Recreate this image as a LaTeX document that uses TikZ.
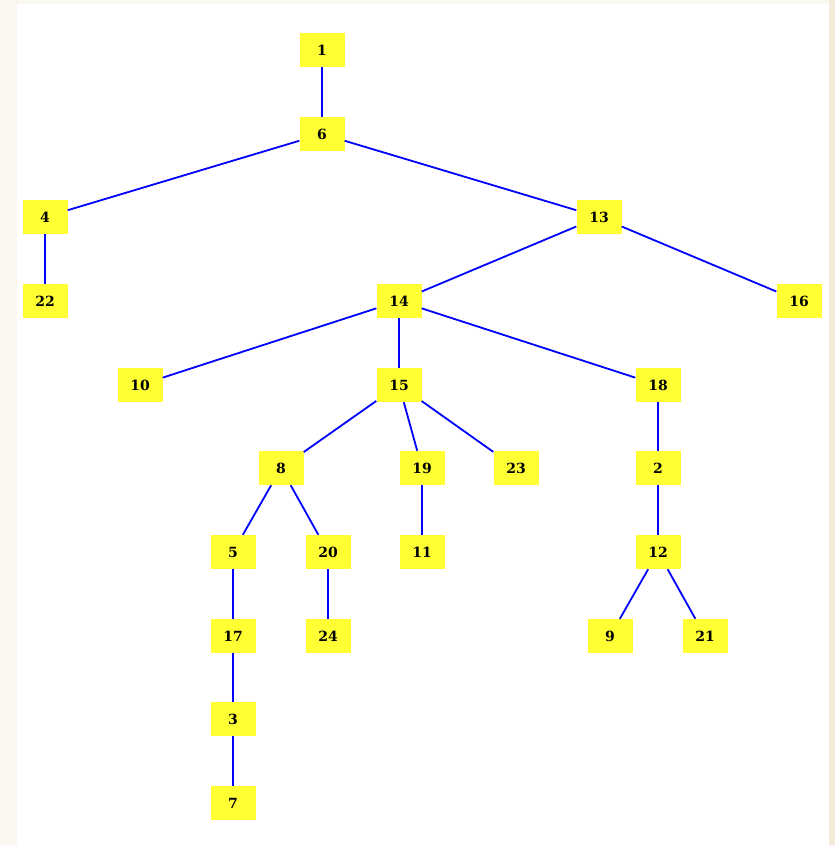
\documentclass[tikz,border=0pt]{standalone}
\usepackage{fontspec}
\setmainfont{DejaVu Serif}
\definecolor{nodeyellow}{RGB}{255,255,51}
\definecolor{edgeblue}{RGB}{0,0,255}
\definecolor{frameleft}{RGB}{249,247,239}
\definecolor{frameright}{RGB}{243,234,218}
\begin{document}
\begin{tikzpicture}[x=1pt,y=-1pt,
  vbox/.style={fill=nodeyellow,draw=none,minimum width=45pt,minimum height=34pt,inner sep=0pt,font=\fontsize{14}{16}\selectfont\bfseries},
  link/.style={draw=edgeblue,line width=1.8pt}]
\useasboundingbox (0,0) rectangle (835,845);
\fill[frameleft] (0,0) rectangle (835,845);
\fill[frameright] (829,0) rectangle (835,845);
\fill[white] (17,4) rectangle (829,845);
\node[vbox] (n1) at (322,50) {1};
\node[vbox] (n6) at (322,134) {6};
\node[vbox] (n4) at (45,217) {4};
\node[vbox] (n13) at (599,217) {13};
\node[vbox] (n22) at (45,301) {22};
\node[vbox] (n14) at (399,301) {14};
\node[vbox] (n16) at (799,301) {16};
\node[vbox] (n10) at (140,385) {10};
\node[vbox] (n15) at (399,385) {15};
\node[vbox] (n18) at (658,385) {18};
\node[vbox] (n8) at (281,468) {8};
\node[vbox] (n19) at (422,468) {19};
\node[vbox] (n23) at (516,468) {23};
\node[vbox] (n2) at (658,468) {2};
\node[vbox] (n5) at (233,552) {5};
\node[vbox] (n20) at (328,552) {20};
\node[vbox] (n11) at (422,552) {11};
\node[vbox] (n12) at (658,552) {12};
\node[vbox] (n17) at (233,636) {17};
\node[vbox] (n24) at (328,636) {24};
\node[vbox] (n9) at (610,636) {9};
\node[vbox] (n21) at (705,636) {21};
\node[vbox] (n3) at (233,719) {3};
\node[vbox] (n7) at (233,803) {7};
\foreach \a/\b in {n1/n6,n6/n4,n6/n13,n4/n22,n13/n14,n13/n16,n14/n10,n14/n15,n14/n18,n15/n8,n15/n19,n15/n23,n18/n2,n8/n5,n8/n20,n19/n11,n2/n12,n5/n17,n20/n24,n12/n9,n12/n21,n17/n3,n3/n7}
  \draw[link] (\a) -- (\b);
\end{tikzpicture}
\end{document}
